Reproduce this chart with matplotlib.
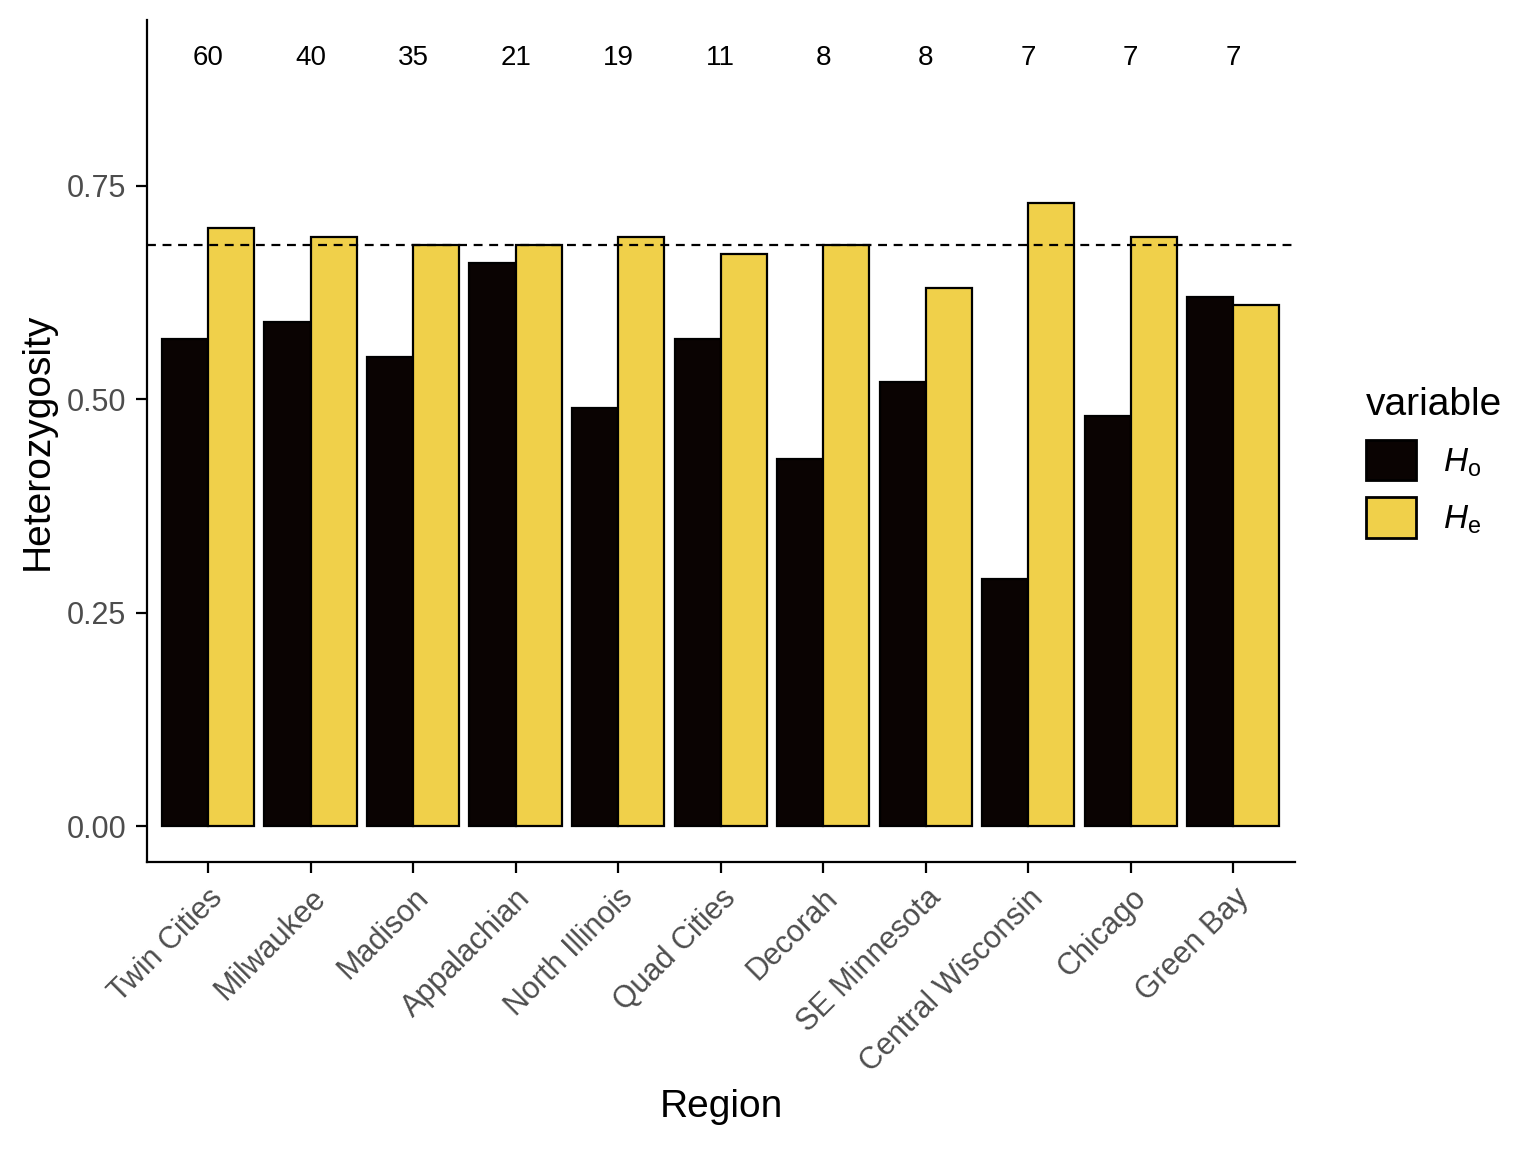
import matplotlib
matplotlib.use('Agg')
import matplotlib.pyplot as plt
import numpy as np
from matplotlib.patches import Patch

plt.rcParams['font.family'] = ['Liberation Sans', 'DejaVu Sans']
plt.rcParams['mathtext.fontset'] = 'custom'
plt.rcParams['mathtext.it'] = 'Liberation Sans:italic'
plt.rcParams['mathtext.rm'] = 'Liberation Sans'

regions = ['Twin Cities', 'Milwaukee', 'Madison', 'Appalachian', 'North Illinois',
           'Quad Cities', 'Decorah', 'SE Minnesota', 'Central Wisconsin', 'Chicago', 'Green Bay']
ho = [0.57, 0.59, 0.55, 0.66, 0.49, 0.57, 0.43, 0.52, 0.29, 0.48, 0.62]
he = [0.70, 0.69, 0.68, 0.68, 0.69, 0.67, 0.68, 0.63, 0.73, 0.69, 0.61]
counts = [60, 40, 35, 21, 19, 11, 8, 8, 7, 7, 7]
mean_he = 0.68

c_ho = '#0a0302'
c_he = '#f0d04a'

fig = plt.figure(figsize=(7.68, 5.76), dpi=200)
ax = fig.add_axes([0.0957, 0.2517, 0.7473, 0.7309])

x = np.arange(1, len(regions) + 1)
w = 0.45
ax.bar(x - w / 2, ho, w, color=c_ho, edgecolor='black', linewidth=0.8)
ax.bar(x + w / 2, he, w, color=c_he, edgecolor='black', linewidth=0.8)
ax.axhline(mean_he, color='black', linestyle=(0, (4, 3)), linewidth=0.8)
for xi, n in zip(x, counts):
    ax.text(xi, 0.9, str(n), ha='center', va='center', fontsize=10)

ax.set_xlim(0.405, 11.6)
ax.set_ylim(-0.042, 0.944)
ax.set_xticks(x)
ax.set_xticklabels(regions, rotation=45, ha='right', rotation_mode='anchor', fontsize=11, color='#4d4d4d')
ax.set_yticks([0, 0.25, 0.5, 0.75])
ax.set_yticklabels(['0.00', '0.25', '0.50', '0.75'], fontsize=11, color='#4d4d4d')
ax.tick_params(length=4, width=0.8)
for s in ['top', 'right']:
    ax.spines[s].set_visible(False)
ax.set_xlabel('Region', fontsize=14)
ax.set_ylabel('Heterozygosity', fontsize=14)

handles = [Patch(facecolor=c_ho, edgecolor='black'), Patch(facecolor=c_he, edgecolor='black')]
leg = fig.legend(handles, [r'$H_\mathrm{o}$', r'$H_\mathrm{e}$'], title='variable',
                 loc='upper left', bbox_to_anchor=(0.87, 0.69), frameon=False,
                 fontsize=12, title_fontsize=14, handlelength=1.5, handleheight=1.5)
leg._legend_box.align = 'left'

fig.savefig('out.png', dpi=200)
